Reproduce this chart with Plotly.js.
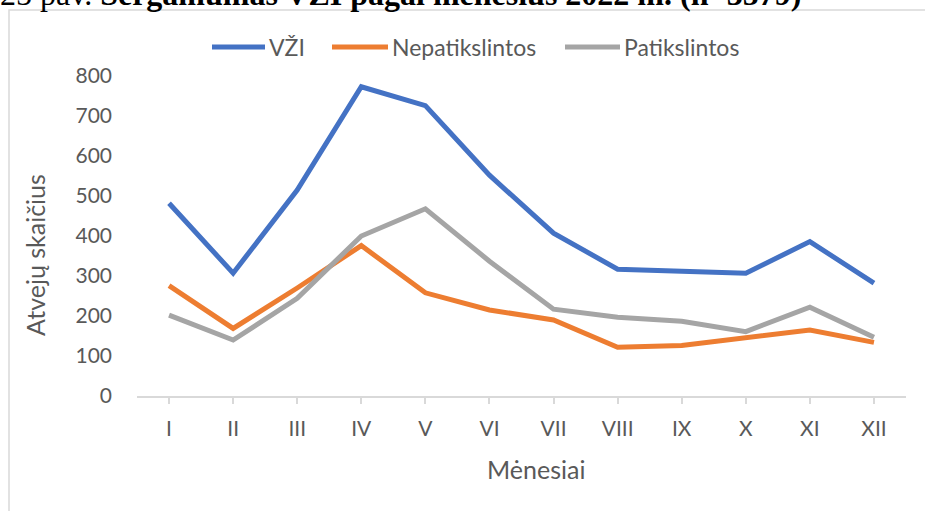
<!DOCTYPE html>
<html>
<head>
<meta charset="utf-8">
<script src="https://cdn.plot.ly/plotly-3.0.1.min.js"></script>
<style>
  html, body { margin: 0; padding: 0; background: #fff; }
  #chart { width: 925px; height: 511px; }
</style>
</head>
<body>
<div id="chart"></div>
<script>
const months = ['I', 'II', 'III', 'IV', 'V', 'VI', 'VII', 'VIII', 'IX', 'X', 'XI', 'XII'];
const vzi = [482, 307, 515, 773, 726, 552, 407, 317, 312, 307, 386, 282];
const nepatikslintos = [276, 169, 270, 376, 258, 215, 190, 122, 126, 144, 165, 134];
const patikslintos = [202, 140, 244, 400, 468, 337, 217, 197, 187, 161, 222, 147];
const seriesNames = ['VŽI', 'Nepatikslintos', 'Patikslintos'];
const seriesColors = ['#4472c4', '#ed7d31', '#a5a5a5'];
const xTitle = 'Mėnesiai';
const yTitle = 'Atvejų skaičius';

const textColor = '#595959';
const fontFamily = 'Lato, "Open Sans", sans-serif';

// plot area in pixels
const M = { l: 137, r: 19, t: 76, b: 115 };
const plotW = 925 - M.l - M.r;
const plotH = 511 - M.t - M.b;
const px = x => (x - M.l) / plotW;
const py = y => 1 - (y - M.t) / plotH;

const data = [vzi, nepatikslintos, patikslintos].map((values, i) => ({
    x: months,
    y: values,
    name: seriesNames[i],
    type: 'scatter',
    mode: 'lines',
    line: { color: seriesColors[i], width: 5 },
    showlegend: false
}));

// hand made legend so the keys are as long as in the original
const legendKeys = [[212, 265], [332, 388], [565, 620]];
const legendY = 47;
const shapes = [{
    type: 'rect',
    xref: 'paper', yref: 'paper',
    x0: px(9), x1: px(960),
    y0: py(560), y1: py(10),
    line: { color: '#d9d9d9', width: 1.5 },
    fillcolor: 'rgba(0,0,0,0)',
    layer: 'below'
}];
const annotations = [{
    text: '25 pav. <b>Sergamumas VŽI pagal mėnesius 2022 m. (n=3579)</b>',
    xref: 'paper', yref: 'paper',
    x: px(-2), xanchor: 'left',
    y: py(14), yanchor: 'bottom',
    showarrow: false,
    font: { family: '"Liberation Serif", "DejaVu Serif", serif', size: 32, color: '#000' }
}, {
    // axis titles sit a little off the plot centre in the original
    text: xTitle,
    xref: 'paper', yref: 'paper',
    x: px(536), xanchor: 'center',
    y: py(469), yanchor: 'middle',
    showarrow: false,
    font: { size: 25, color: textColor }
}, {
    text: yTitle,
    xref: 'paper', yref: 'paper',
    x: px(35), xanchor: 'center',
    y: py(255), yanchor: 'middle',
    textangle: -90,
    showarrow: false,
    font: { size: 25, color: textColor }
}];
legendKeys.forEach((k, i) => {
    shapes.push({
        type: 'line',
        xref: 'paper', yref: 'paper',
        x0: px(k[0]), x1: px(k[1]),
        y0: py(legendY), y1: py(legendY),
        line: { color: seriesColors[i], width: 5 }
    });
    annotations.push({
        text: seriesNames[i],
        xref: 'paper', yref: 'paper',
        x: px(k[1] + 2), xanchor: 'left',
        y: py(legendY), yanchor: 'middle',
        showarrow: false,
        font: { size: 23, color: textColor }
    });
});

const layout = {
    width: 925,
    height: 511,
    margin: M,
    paper_bgcolor: '#fff',
    plot_bgcolor: '#fff',
    font: { family: fontFamily, size: 21, color: textColor },
    showlegend: false,
    xaxis: {
        type: 'category',
        range: [-0.5, 11.5],
        showgrid: false,
        showline: true,
        linecolor: '#d9d9d9',
        linewidth: 2,
        ticks: 'outside',
        ticklen: 6,
        tickcolor: '#d9d9d9',
        tickwidth: 2,
        ticklabelstandoff: 7,
        zeroline: false
    },
    yaxis: {
        range: [0, 800],
        dtick: 100,
        showgrid: false,
        zeroline: false,
        showline: false,
        ticks: '',
        ticklabelstandoff: 24
    },
    shapes: shapes,
    annotations: annotations
};

Plotly.newPlot('chart', data, layout, { displayModeBar: false, staticPlot: true });
</script>
</body>
</html>
